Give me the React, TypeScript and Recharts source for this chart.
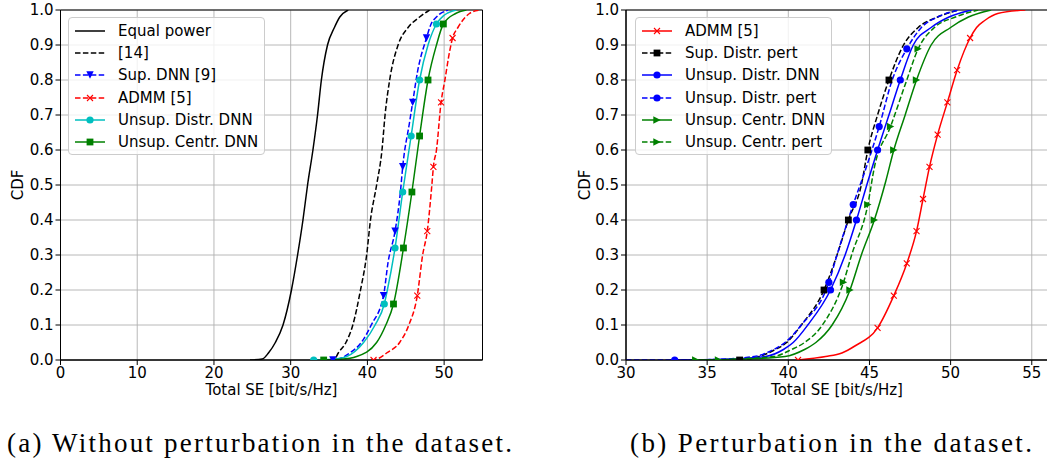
import React from "react";
import {
  CartesianGrid,
  ComposedChart,
  Legend,
  Line,
  ReferenceArea,
  XAxis,
  YAxis,
} from "recharts";

type Pt = [number, number]; // [total SE, CDF]

// ---- (a) without perturbation ----
const equalPower: Pt[] = [
  [24.7, 0], [26.3, 0.003], [27.1, 0.02], [28.0, 0.05], [29.0, 0.1], [30.1, 0.2],
  [30.9, 0.3], [31.6, 0.4], [32.2, 0.5], [32.9, 0.6], [33.5, 0.7], [34.0, 0.8],
  [34.8, 0.9], [35.7, 0.95], [36.4, 0.98], [37.5, 1],
];
const ref14: Pt[] = [
  [35.0, 0], [35.8, 0.005], [36.2, 0.02], [37.2, 0.05], [38.1, 0.1], [39.1, 0.2],
  [39.9, 0.3], [40.4, 0.4], [41.2, 0.5], [41.9, 0.6], [42.3, 0.7], [42.9, 0.8],
  [44.0, 0.9], [45.3, 0.95], [46.8, 0.98], [48.1, 1],
];
const supDnn: Pt[] = [
  [35.0, 0], [36.5, 0.005], [37.7, 0.02], [39.2, 0.05], [40.5, 0.1], [42.7, 0.28],
  [44.3, 0.48], [45.5, 0.68], [46.5, 0.82], [48.3, 0.96], [49.0, 0.98], [50.5, 1],
];
const supDnnMarks: Pt[] = [[35.5, 0], [42.1, 0.184], [43.6, 0.368], [44.6, 0.552], [45.9, 0.736], [47.7, 0.92]];
const admmA: Pt[] = [
  [40.5, 0], [41.5, 0.005], [42.5, 0.02], [44.2, 0.05], [45.4, 0.1], [47.2, 0.3],
  [48.4, 0.5], [49.0, 0.6], [50.1, 0.8], [50.7, 0.88], [51.8, 0.95], [53.3, 0.99], [54.6, 1],
];
const admmAMarks: Pt[] = [[40.8, 0], [46.5, 0.184], [47.8, 0.368], [48.6, 0.552], [49.6, 0.736], [51.1, 0.92]];
const distrA: Pt[] = [
  [33.0, 0], [35.5, 0.002], [37.3, 0.01], [39.5, 0.05], [41.0, 0.1], [42.6, 0.2],
  [47.9, 0.9], [50.0, 0.985], [51.6, 1],
];
const distrAMarks: Pt[] = [[33.0, 0], [42.2, 0.16], [43.6, 0.32], [44.6, 0.48], [45.7, 0.64], [46.8, 0.8], [49.0, 0.96]];
const centrA: Pt[] = [
  [34.3, 0], [36.5, 0.002], [38.6, 0.01], [41.2, 0.05], [42.4, 0.1], [49.0, 0.9],
  [51.5, 0.99], [52.9, 1],
];
const centrAMarks: Pt[] = [[34.3, 0], [43.4, 0.16], [44.7, 0.32], [45.8, 0.48], [46.8, 0.64], [47.9, 0.8], [49.9, 0.96]];

// ---- (b) perturbation ----
const admmB: Pt[] = [
  [40.6, 0], [42.3, 0.01], [43.3, 0.02], [44.1, 0.04], [51.6, 0.95], [52.1, 0.97],
  [52.9, 0.99], [54.6, 1],
];
const admmBMarks: Pt[] = [
  [40.6, 0], [45.5, 0.092], [46.5, 0.184], [47.3, 0.276], [47.9, 0.368], [48.3, 0.46],
  [48.7, 0.552], [49.2, 0.644], [49.8, 0.736], [50.4, 0.828], [51.2, 0.92],
];
const supPert: Pt[] = [
  [35.5, 0], [38.2, 0.01], [39.2, 0.03], [39.9, 0.05], [40.8, 0.1], [43.0, 0.3],
  [44.5, 0.5], [45.5, 0.7], [47.1, 0.9], [48.0, 0.95], [49.2, 0.98], [50.5, 1],
];
const supPertMarks: Pt[] = [[37.0, 0], [42.2, 0.2], [43.7, 0.4], [44.9, 0.6], [46.2, 0.8]];
const distrB: Pt[] = [
  [33.0, 0], [36.0, 0.002], [38.6, 0.01], [39.7, 0.03], [40.3, 0.05], [41.2, 0.1],
  [43.5, 0.3], [44.9, 0.51], [46.2, 0.7], [47.7, 0.9], [48.8, 0.95], [49.9, 0.98], [51.3, 1],
];
const distrBMarks: Pt[] = [[33.0, 0], [42.6, 0.2], [44.2, 0.4], [45.5, 0.6], [46.9, 0.8]];
const distrPert: Pt[] = [
  [30.0, 0], [35.0, 0.001], [37.9, 0.01], [39.1, 0.03], [39.8, 0.05], [40.8, 0.1],
  [43.0, 0.3], [44.8, 0.55], [46.4, 0.8], [48.2, 0.95], [49.2, 0.98], [50.5, 1],
];
const distrPertMarks: Pt[] = [[42.5, 0.222], [44.0, 0.444], [45.6, 0.667], [47.3, 0.889]];
const centrB: Pt[] = [
  [34.3, 0], [37.0, 0.002], [39.8, 0.01], [41.0, 0.03], [41.7, 0.05], [42.7, 0.1],
  [44.5, 0.3], [46.0, 0.51], [47.2, 0.7], [48.8, 0.9], [50.0, 0.95], [51.1, 0.98], [52.5, 1],
];
const centrBMarks: Pt[] = [[34.3, 0], [43.8, 0.2], [45.3, 0.4], [46.5, 0.6], [47.9, 0.8]];
const centrPert: Pt[] = [
  [34.0, 0], [36.5, 0.002], [39.1, 0.01], [40.2, 0.03], [41.0, 0.05], [42.1, 0.1],
  [43.9, 0.3], [45.3, 0.55], [47.3, 0.8], [49.0, 0.95], [50.3, 0.98], [51.7, 1],
];
const centrPertMarks: Pt[] = [[35.7, 0], [43.4, 0.222], [44.9, 0.444], [46.3, 0.667], [48.0, 0.889]];

const yTicks = [0, 0.1, 0.2, 0.3, 0.4, 0.5, 0.6, 0.7, 0.8, 0.9, 1.0];
const xTicksA = [0, 10, 20, 30, 40, 50];
const xTicksB = [30, 35, 40, 45, 50, 55];

type MarkerKind = "o" | "s" | "v" | ">" | "x" | null;

interface Series {
  name: string;
  pts: Pt[];
  marks: Pt[];
  color: string;
  dashed: boolean;
  marker: MarkerKind;
}

const seriesA: Series[] = [
  { name: "Equal power", pts: equalPower, marks: [], color: "#000000", dashed: false, marker: null },
  { name: "[14]", pts: ref14, marks: [], color: "#000000", dashed: true, marker: null },
  { name: "Sup. DNN [9]", pts: supDnn, marks: supDnnMarks, color: "#0000ff", dashed: true, marker: "v" },
  { name: "ADMM [5]", pts: admmA, marks: admmAMarks, color: "#ff0000", dashed: true, marker: "x" },
  { name: "Unsup. Distr. DNN", pts: distrA, marks: distrAMarks, color: "#00bfbf", dashed: false, marker: "o" },
  { name: "Unsup. Centr. DNN", pts: centrA, marks: centrAMarks, color: "#008000", dashed: false, marker: "s" },
];

const seriesB: Series[] = [
  { name: "ADMM [5]", pts: admmB, marks: admmBMarks, color: "#ff0000", dashed: false, marker: "x" },
  { name: "Sup. Distr. pert", pts: supPert, marks: supPertMarks, color: "#000000", dashed: true, marker: "s" },
  { name: "Unsup. Distr. DNN", pts: distrB, marks: distrBMarks, color: "#0000ff", dashed: false, marker: "o" },
  { name: "Unsup. Distr. pert", pts: distrPert, marks: distrPertMarks, color: "#0000ff", dashed: true, marker: "o" },
  { name: "Unsup. Centr. DNN", pts: centrB, marks: centrBMarks, color: "#008000", dashed: false, marker: ">" },
  { name: "Unsup. Centr. pert", pts: centrPert, marks: centrPertMarks, color: "#008000", dashed: true, marker: ">" },
];

const FONT = "'DejaVu Sans', sans-serif";
const DASH = "5.5 2.4";

const buildData = (pts: Pt[], marks: Pt[]) =>
  [
    ...pts.map(([x, y]) => ({ x, y, m: false })),
    ...marks.map(([x, y]) => ({ x, y, m: true })),
  ].sort((a, b) => a.y - b.y || a.x - b.x);

const Marker = ({ kind, cx, cy, color }: { kind: MarkerKind; cx: number; cy: number; color: string }) => {
  const r = 3.7;
  switch (kind) {
    case "o":
      return <circle cx={cx} cy={cy} r={3.6} fill={color} />;
    case "s":
      return <rect x={cx - 3.4} y={cy - 3.4} width={6.8} height={6.8} fill={color} />;
    case "v":
      return <polygon points={`${cx - r},${cy - r} ${cx + r},${cy - r} ${cx},${cy + r}`} fill={color} />;
    case ">":
      return <polygon points={`${cx - r},${cy - r} ${cx - r},${cy + r} ${cx + r},${cy}`} fill={color} />;
    case "x":
      return (
        <path
          d={`M${cx - 3} ${cy - 3}L${cx + 3} ${cy + 3}M${cx - 3} ${cy + 3}L${cx + 3} ${cy - 3}`}
          stroke={color}
          strokeWidth={1.1}
          fill="none"
        />
      );
    default:
      return null;
  }
};

const LegendBox = ({ items }: { items: Series[] }) => (
  <div
    style={{
      boxSizing: "border-box",
      width: "100%",
      height: "100%",
      background: "rgba(255,255,255,0.8)",
      border: "1px solid #cccccc",
      borderRadius: 4,
      paddingTop: 2,
      paddingLeft: 5,
      fontFamily: FONT,
      fontSize: 15,
      color: "#000",
    }}
  >
    {items.map((s) => (
      <div key={s.name} style={{ display: "flex", alignItems: "center", height: 22.2 }}>
        <svg width={32} height={22} style={{ flex: "none" }}>
          <line
            x1={1}
            y1={11}
            x2={31}
            y2={11}
            stroke={s.color}
            strokeWidth={1.5}
            strokeDasharray={s.dashed ? DASH : undefined}
          />
          <Marker kind={s.marker} cx={16} cy={11} color={s.color} />
        </svg>
        <span style={{ marginLeft: 12, whiteSpace: "nowrap" }}>{s.name}</span>
      </div>
    ))}
  </div>
);

interface PanelProps {
  series: Series[];
  width: number;
  yAxisWidth: number;
  marginRight: number;
  xDomain: [number, number];
  xTicks: number[];
  cdfX: number;
  legendLeft: number;
}

const Panel = ({ series, width, yAxisWidth, marginRight, xDomain, xTicks, cdfX, legendLeft }: PanelProps) => (
  <ComposedChart
    width={width}
    height={400}
    margin={{ top: 10, right: marginRight, bottom: 0, left: 0 }}
    style={{ fontFamily: FONT }}
  >
    <CartesianGrid stroke="#b0b0b0" strokeWidth={0.9} />
    <XAxis
      type="number"
      dataKey="x"
      domain={xDomain}
      ticks={xTicks}
      allowDataOverflow
      height={40}
      tickSize={5}
      tick={{ fontSize: 15, fill: "#000" }}
      tickLine={{ stroke: "#000" }}
      axisLine={{ stroke: "#000" }}
      label={{ value: "Total SE [bit/s/Hz]", position: "insideBottom", offset: 5, fill: "#000", fontSize: 15 }}
    />
    <YAxis
      type="number"
      dataKey="y"
      domain={[0, 1]}
      ticks={yTicks}
      allowDataOverflow
      width={yAxisWidth}
      tickSize={5}
      tickFormatter={(v: number) => v.toFixed(1)}
      tick={{ fontSize: 15, fill: "#000" }}
      tickLine={{ stroke: "#000" }}
      axisLine={{ stroke: "#000" }}
      label={{
        content: () => (
          <text
            x={cdfX}
            y={185}
            transform={`rotate(-90 ${cdfX} 185)`}
            textAnchor="middle"
            dominantBaseline="central"
            fontSize={15}
            fill="#000"
          >
            CDF
          </text>
        ),
      }}
    />
    {series.map((s) => (
      <Line
        key={s.name}
        name={s.name}
        data={buildData(s.pts, s.marks)}
        dataKey="y"
        type="monotone"
        stroke={s.color}
        strokeWidth={1.5}
        strokeDasharray={s.dashed ? DASH : undefined}
        isAnimationActive={false}
        legendType="none"
        dot={(p: any) =>
          p.payload && p.payload.m ? (
            <Marker key={p.index} kind={s.marker} cx={p.cx} cy={p.cy} color={s.color} />
          ) : (
            <g key={p.index} />
          )
        }
        activeDot={false}
      />
    ))}
    <ReferenceArea
      x1={xDomain[0]}
      x2={xDomain[1]}
      y1={0}
      y2={1}
      fill="none"
      fillOpacity={0}
      stroke="#000"
      strokeWidth={1}
      ifOverflow="visible"
    />
    <Legend
      layout="vertical"
      align="center"
      verticalAlign="middle"
      content={() => <LegendBox items={series} />}
      wrapperStyle={{ left: legendLeft, top: 17, width: 197, height: 138 }}
    />
  </ComposedChart>
);

export default function App() {
  return (
    <div
      style={{
        position: "absolute",
        left: 0,
        top: 0,
        width: 1047,
        height: 462,
        overflow: "hidden",
        background: "#fff",
      }}
    >
      <div style={{ position: "absolute", left: 0, top: 0 }}>
        <Panel
          series={seriesA}
          width={490}
          yAxisWidth={60.5}
          marginRight={7.5}
          xDomain={[0, 55]}
          xTicks={xTicksA}
          cdfX={18}
          legendLeft={68}
        />
      </div>
      <div style={{ position: "absolute", left: 560, top: 0 }}>
        <Panel
          series={seriesB}
          width={488}
          yAxisWidth={66}
          marginRight={0}
          xDomain={[30, 56]}
          xTicks={xTicksB}
          cdfX={25}
          legendLeft={75}
        />
      </div>
      <svg
        width={1047}
        height={62}
        style={{ position: "absolute", left: 0, top: 400 }}
        fontFamily="'Liberation Serif', serif"
      >
        <text x={259.5} y={51.5} textAnchor="middle" fontSize={27} fill="#000" textLength={505} lengthAdjust="spacing">
          (a) Without perturbation in the dataset.
        </text>
        <text x={831} y={51.5} textAnchor="middle" fontSize={27} fill="#000" textLength={402} lengthAdjust="spacing">
          (b) Perturbation in the dataset.
        </text>
      </svg>
    </div>
  );
}
